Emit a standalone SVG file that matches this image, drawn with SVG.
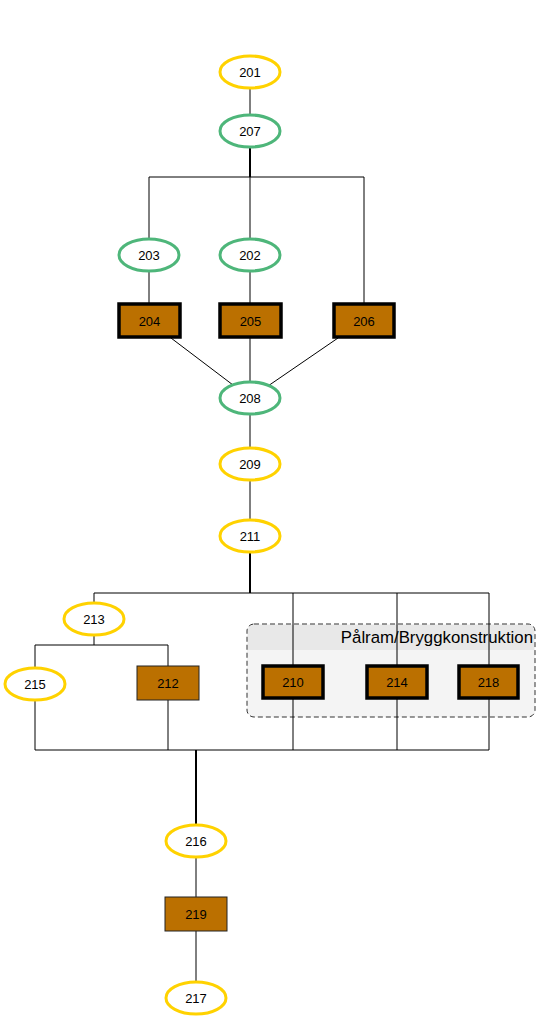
<svg xmlns="http://www.w3.org/2000/svg" width="536" height="1017" viewBox="0 0 536 1017">
<style>
text{font-family:"Liberation Sans",Arial,sans-serif;font-size:13px;fill:#000;text-anchor:middle;dominant-baseline:central}
.y{fill:#fff;stroke:#ffd200;stroke-width:3}
.g{fill:#fff;stroke:#4eb67a;stroke-width:3}
.bt{fill:#bb7000;stroke:#000;stroke-width:3.5}
.bn{fill:#bb7000;stroke:#222;stroke-width:1}
.c{fill:none;stroke:#000;stroke-width:1}
.ct{fill:none;stroke:#000;stroke-width:2}
</style>
<rect width="536" height="1017" fill="#fff"/>
<g id="group-palram">
<rect x="247" y="624" width="288" height="93" rx="7" fill="#f4f4f4" stroke="#333" stroke-width="1" stroke-dasharray="5,3"/>
<path d="M248 650 V631 Q248 625 254 625 H528 Q534 625 534 631 V650 Z" fill="#e8e8e8"/>
<text x="533" y="637" style="text-anchor:end;font-size:16.8px">Pålram/Bryggkonstruktion</text>
</g>
<g id="connectors">
<path class="c" d="M250 88 V115"/>
<path class="ct" d="M250 147 V177"/>
<path class="c" d="M149 177 H364 M149 177 V239 M250 177 V239 M364 177 V304"/>
<path class="c" d="M149 271 V304 M250 271 V304"/>
<path class="c" d="M171 338 L233 385 M250 338 V382 M338 338 L268 386"/>
<path class="c" d="M250 414 V448 M250 480 V520"/>
<path class="ct" d="M250 552 V593"/>
<path class="c" d="M94 593 H489 M94 593 V603 M94 635 V645 M35 645 H168 M35 645 V668 M168 645 V666"/>
<path class="c" d="M293 593 V750 M397 593 V750 M489 593 V750"/>
<path class="c" d="M35 700 V750 M168 700 V750 M35 750 H489"/>
<path class="ct" d="M196 750 V825"/>
<path class="c" d="M196 857 V897 M196 931 V982"/>
</g>
<g id="n201"><ellipse class="y" cx="250" cy="72" rx="30" ry="16"/><text x="250" y="72">201</text></g>
<g id="n207"><ellipse class="g" cx="250" cy="131" rx="30" ry="16"/><text x="250" y="131">207</text></g>
<g id="n203"><ellipse class="g" cx="149" cy="255" rx="30" ry="16"/><text x="149" y="255">203</text></g>
<g id="n202"><ellipse class="g" cx="250" cy="255" rx="30" ry="16"/><text x="250" y="255">202</text></g>
<g id="n204"><rect class="bt" x="119" y="304" width="61" height="33"/><text x="149.5" y="321">204</text></g>
<g id="n205"><rect class="bt" x="220" y="304" width="61" height="33"/><text x="250.5" y="321">205</text></g>
<g id="n206"><rect class="bt" x="334" y="304" width="60" height="33"/><text x="364" y="321">206</text></g>
<g id="n208"><ellipse class="g" cx="250" cy="398" rx="30" ry="16"/><text x="250" y="398">208</text></g>
<g id="n209"><ellipse class="y" cx="250" cy="464" rx="30" ry="16"/><text x="250" y="464">209</text></g>
<g id="n211"><ellipse class="y" cx="250" cy="536" rx="30" ry="16"/><text x="250" y="536">211</text></g>
<g id="n213"><ellipse class="y" cx="94" cy="619" rx="30" ry="16"/><text x="94" y="619">213</text></g>
<g id="n215"><ellipse class="y" cx="35" cy="684" rx="30" ry="16"/><text x="35" y="684">215</text></g>
<g id="n212"><rect class="bn" x="137" y="666" width="62" height="34"/><text x="168" y="683">212</text></g>
<g id="n210"><rect class="bt" x="263" y="666" width="60" height="32"/><text x="293" y="682">210</text></g>
<g id="n214"><rect class="bt" x="367" y="666" width="60" height="32"/><text x="397" y="682">214</text></g>
<g id="n218"><rect class="bt" x="459" y="666" width="59" height="32"/><text x="488.5" y="682">218</text></g>
<g id="n216"><ellipse class="y" cx="196" cy="841" rx="30" ry="16"/><text x="196" y="841">216</text></g>
<g id="n219"><rect class="bn" x="165" y="897" width="62" height="34"/><text x="196" y="914">219</text></g>
<g id="n217"><ellipse class="y" cx="196" cy="998" rx="30" ry="16"/><text x="196" y="998">217</text></g>
</svg>
